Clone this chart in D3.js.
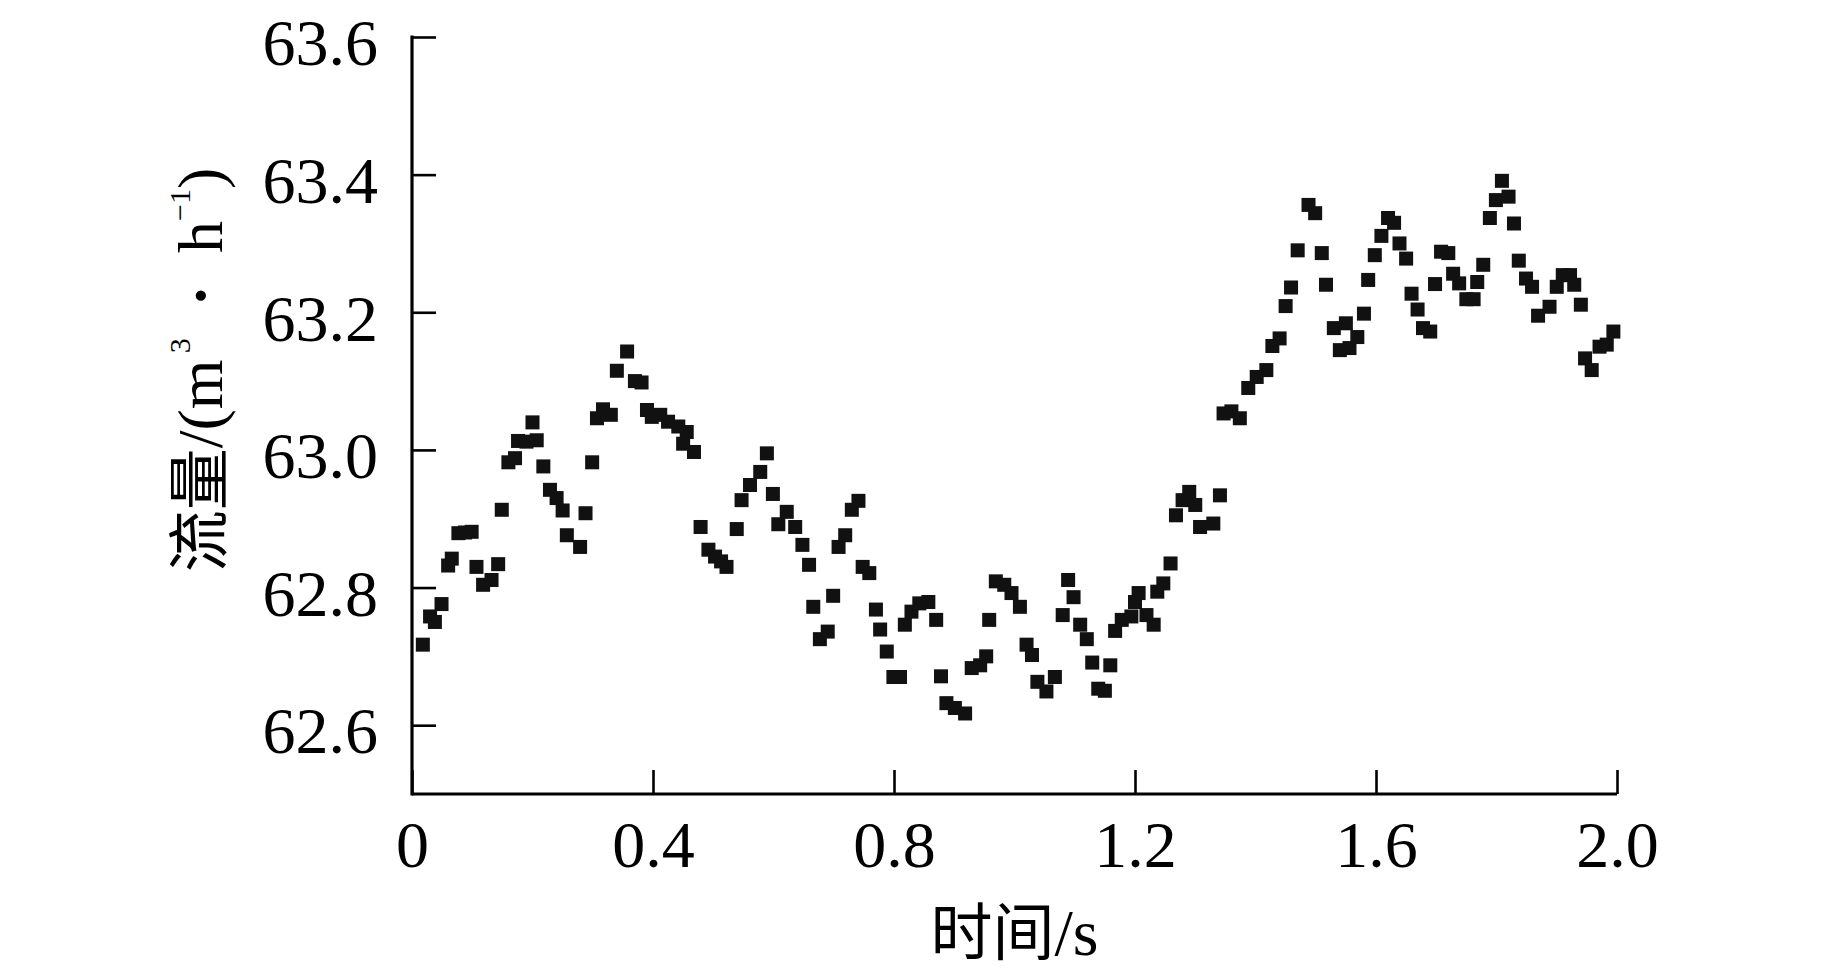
<!DOCTYPE html>
<html>
<head>
<meta charset="utf-8">
<script src="https://cdn.jsdelivr.net/npm/d3@7"></script>
<style>
  html, body { margin: 0; padding: 0; background: #fff; }
  svg { display: block; }
</style>
</head>
<body>
<svg id="chart" width="1843" height="980"></svg>
<script>
// ---- data ----
const timeValues = [
  0.018, 0.030, 0.038, 0.049, 0.060, 0.066, 0.077, 0.088, 0.099, 0.107,
  0.118, 0.132, 0.143, 0.149, 0.160, 0.171, 0.176, 0.190, 0.200, 0.207,
  0.218, 0.229, 0.240, 0.250, 0.257, 0.279, 0.288, 0.299, 0.307, 0.317,
  0.330, 0.340, 0.357, 0.370, 0.381, 0.390, 0.398, 0.412, 0.425, 0.442,
  0.450, 0.456, 0.468, 0.479, 0.492, 0.503, 0.513, 0.522, 0.539, 0.547,
  0.561, 0.578, 0.589, 0.599, 0.608, 0.622, 0.636, 0.648, 0.659, 0.666,
  0.677, 0.690, 0.699, 0.708, 0.719, 0.730, 0.741, 0.748, 0.759, 0.770,
  0.777, 0.788, 0.799, 0.810, 0.818, 0.829, 0.842, 0.857, 0.870, 0.878,
  0.887, 0.901, 0.918, 0.929, 0.943, 0.953, 0.958, 0.969, 0.983, 0.995,
  1.009, 1.020, 1.029, 1.038, 1.053, 1.067, 1.080, 1.089, 1.098, 1.109,
  1.120, 1.129, 1.139, 1.150, 1.159, 1.167, 1.178, 1.194, 1.200, 1.206,
  1.219, 1.231, 1.237, 1.247, 1.259, 1.268, 1.279, 1.290, 1.300, 1.308,
  1.330, 1.341, 1.347, 1.360, 1.374, 1.388, 1.402, 1.418, 1.428, 1.440,
  1.450, 1.459, 1.470, 1.488, 1.499, 1.510, 1.517, 1.530, 1.540, 1.550,
  1.556, 1.569, 1.580, 1.587, 1.598, 1.609, 1.620, 1.630, 1.639, 1.650,
  1.659, 1.669, 1.678, 1.690, 1.698, 1.708, 1.720, 1.728, 1.738, 1.750,
  1.762, 1.768, 1.778, 1.789, 1.799, 1.809, 1.820, 1.829, 1.837, 1.849,
  1.859, 1.869, 1.888, 1.900, 1.910, 1.922, 1.929, 1.940, 1.947, 1.958,
  1.971, 1.983, 1.994
];
const flowValues = [
  62.717, 62.758, 62.750, 62.776, 62.832, 62.842, 62.879, 62.880, 62.881, 62.830,
  62.804, 62.811, 62.834, 62.913, 62.982, 62.988, 63.013, 63.012, 63.040, 63.014,
  62.976, 62.942, 62.930, 62.912, 62.876, 62.859, 62.908, 62.982, 63.046, 63.059,
  63.051, 63.115, 63.143, 63.100, 63.098, 63.058, 63.048, 63.051, 63.041, 63.034,
  63.009, 63.026, 62.997, 62.888, 62.855, 62.845, 62.838, 62.830, 62.885, 62.927,
  62.949, 62.968, 62.995, 62.936, 62.892, 62.910, 62.888, 62.862, 62.833, 62.772,
  62.725, 62.736, 62.788, 62.859, 62.876, 62.913, 62.926, 62.830, 62.821, 62.768,
  62.739, 62.707, 62.670, 62.670, 62.746, 62.765, 62.777, 62.779, 62.753, 62.671,
  62.632, 62.625, 62.617, 62.683, 62.687, 62.700, 62.753, 62.809, 62.804, 62.792,
  62.772, 62.717, 62.702, 62.663, 62.649, 62.670, 62.760, 62.811, 62.786, 62.746,
  62.725, 62.691, 62.653, 62.650, 62.687, 62.737, 62.753, 62.758, 62.779, 62.792,
  62.760, 62.746, 62.794, 62.806, 62.835, 62.905, 62.927, 62.939, 62.920, 62.888,
  62.893, 62.934, 63.053, 63.056, 63.046, 63.090, 63.106, 63.116, 63.151, 63.162,
  63.209, 63.236, 63.290, 63.356, 63.344, 63.286, 63.240, 63.177, 63.145, 63.184,
  63.148, 63.164, 63.198, 63.247, 63.283, 63.311, 63.337, 63.330, 63.300, 63.278,
  63.227, 63.204, 63.177, 63.172, 63.241, 63.288, 63.286, 63.256, 63.242, 63.219,
  63.219, 63.244, 63.269, 63.337, 63.363, 63.391, 63.368, 63.329, 63.275, 63.249,
  63.237, 63.195, 63.208, 63.237, 63.254, 63.254, 63.240, 63.211, 63.133, 63.116,
  63.150, 63.153, 63.172
];
const xTickValues = [0, 0.4, 0.8, 1.2, 1.6, 2.0];
const xTickLabels = ["0", "0.4", "0.8", "1.2", "1.6", "2.0"];
const yTickValues = [62.6, 62.8, 63.0, 63.2, 63.4, 63.6];
const yTickLabels = ["62.6", "62.8", "63.0", "63.2", "63.4", "63.6"];
const xDomain = [0, 2.0];
const yDomain = [62.5, 63.6];

// ---- layout ----
const plotLeft = 412, plotRight = 1617, plotTop = 37, plotBottom = 794;
const serif = '"Liberation Serif", "Times New Roman", serif';
const cjk = '"Noto Sans CJK SC", sans-serif';
const fs = 66;
const markerSize = 14;

const svg = d3.select("#chart");
const x = d3.scaleLinear().domain(xDomain).range([plotLeft, plotRight]);
const y = d3.scaleLinear().domain(yDomain).range([plotBottom, plotTop]);

// points
const pts = timeValues.map((t, i) => ({ t, v: flowValues[i] }));
svg.append("g").selectAll("rect").data(pts).join("rect")
  .attr("x", d => x(d.t) - markerSize / 2)
  .attr("y", d => y(d.v) - markerSize / 2)
  .attr("width", markerSize)
  .attr("height", markerSize)
  .attr("fill", "#111");

// x axis
const xAxis = d3.axisBottom(x)
  .tickValues(xTickValues)
  .tickFormat((d, i) => xTickLabels[i])
  .tickSize(-24)
  .tickPadding(26);
const gx = svg.append("g").attr("transform", `translate(0,${plotBottom})`).call(xAxis);
gx.select(".domain").attr("d", `M${plotLeft},0H${plotRight}`).attr("stroke", "#000").attr("stroke-width", 3.2);
gx.selectAll(".tick line").attr("stroke", "#000").attr("stroke-width", 2.6);
gx.selectAll(".tick text").attr("font-family", serif).attr("font-size", fs).attr("fill", "#000");

// y axis
const yAxis = d3.axisLeft(y)
  .tickValues(yTickValues)
  .tickFormat((d, i) => yTickLabels[i])
  .tickSize(-24)
  .tickPadding(34);
const gy = svg.append("g").attr("transform", `translate(${plotLeft},0)`).call(yAxis);
gy.select(".domain").attr("d", `M0,${plotTop - 1.5}V${plotBottom + 1.5}`).attr("stroke", "#000").attr("stroke-width", 3.2);
gy.selectAll(".tick line").attr("stroke", "#000").attr("stroke-width", 2.6);
gy.selectAll(".tick text").attr("font-family", serif).attr("font-size", fs).attr("fill", "#000").attr("dy", "0.42em");

// x title
const xt = svg.append("text")
  .attr("x", (plotLeft + plotRight) / 2)
  .attr("y", 955)
  .attr("text-anchor", "middle")
  .attr("font-size", 62)
  .attr("fill", "#000");
xt.append("tspan").attr("font-family", cjk).text("时间");
xt.append("tspan").attr("font-family", serif).attr("font-size", 66).text("/s");

// y title (rotated)
const yt = svg.append("text")
  .attr("transform", `translate(222,370) rotate(-90)`)
  .attr("text-anchor", "middle")
  .attr("font-family", serif)
  .attr("font-size", 64)
  .attr("fill", "#000");
yt.append("tspan").attr("font-family", cjk).attr("font-size", 62).text("流量");
yt.append("tspan").text("/(m");
yt.append("tspan").attr("font-size", 30).attr("dy", -32).text("\u20093");
yt.append("tspan").attr("dy", 32).attr("font-weight", "bold").text("\u2002·\u2002");
yt.append("tspan").text("h");
yt.append("tspan").attr("font-size", 30).attr("dy", -32).text("−1");
yt.append("tspan").attr("dy", 32).text(")");
</script>
</body>
</html>
